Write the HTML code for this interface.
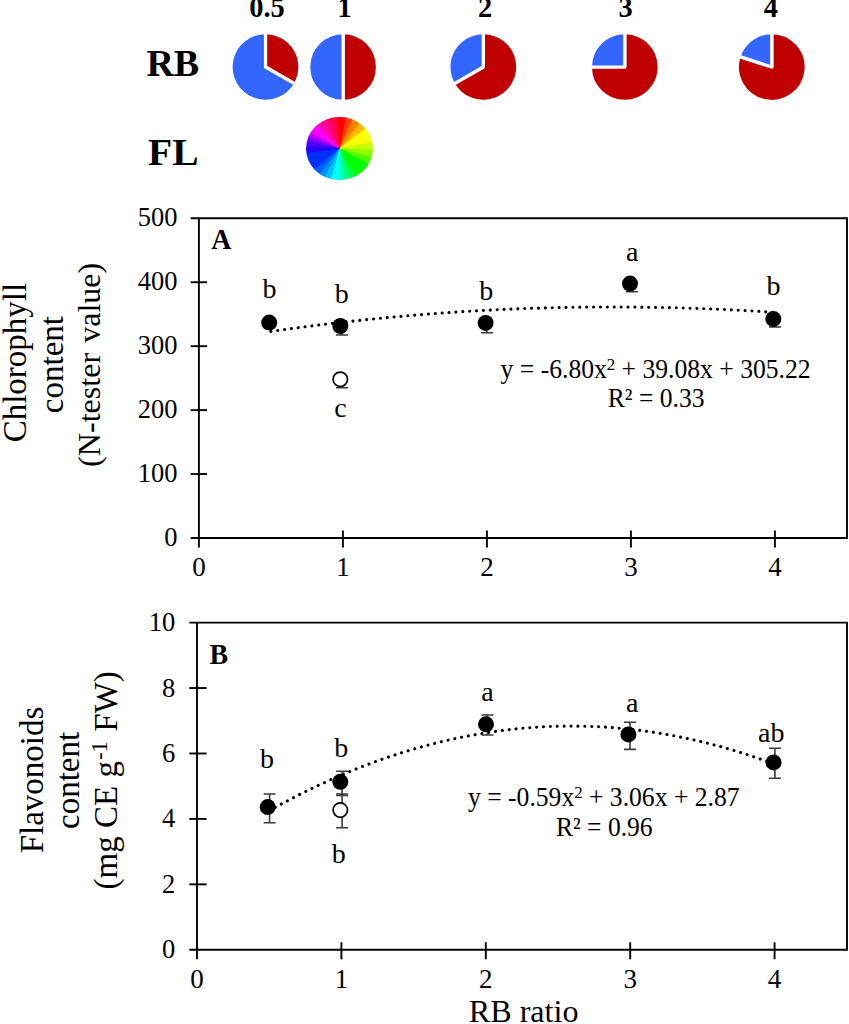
<!DOCTYPE html>
<html><head><meta charset="utf-8"><title>Figure</title>
<style>html,body{margin:0;padding:0;background:#fff;}body{width:849px;height:1024px;overflow:hidden;position:relative;font-family:"Liberation Serif",serif;}svg{position:absolute;left:0;top:0;display:block;}text{font-family:"Liberation Serif",serif;fill:#000;}.wheel{position:absolute;border-radius:50%;}</style>
</head><body>
<div class="wheel" style="left:306.0px;top:116.5px;width:66.6px;height:63.8px;background:conic-gradient(from 0deg,#ff0000 -1.5deg,#ff0000 10.5deg,#ff4000 13.5deg,#ff4000 22.5deg,#ff8000 25.5deg,#ff8000 36.5deg,#ffb800 39.5deg,#ffb800 50.5deg,#ffff00 53.5deg,#ffff00 76.5deg,#c8ff00 79.5deg,#c8ff00 90.5deg,#90ff00 93.5deg,#90ff00 103.5deg,#50ff00 106.5deg,#50ff00 116.5deg,#00ff00 119.5deg,#00ff00 148.5deg,#00ff40 151.5deg,#00ff40 158.5deg,#00ff80 161.5deg,#00ff80 169.5deg,#00ffc0 172.5deg,#00ffc0 178.5deg,#00ffff 181.5deg,#00ffff 193.5deg,#00c0ff 196.5deg,#00c0ff 205.5deg,#0090ff 208.5deg,#0090ff 216.5deg,#0060ff 219.5deg,#0060ff 228.5deg,#0030ff 231.5deg,#0030ff 260.5deg,#2000ff 263.5deg,#2000ff 272.5deg,#5000f0 275.5deg,#5000f0 282.5deg,#8000ff 285.5deg,#8000ff 290.5deg,#c000ff 293.5deg,#c000ff 298.5deg,#ff00ff 301.5deg,#ff00ff 316.5deg,#ff00a0 319.5deg,#ff00a0 332.5deg,#ff0060 335.5deg,#ff0060 346.5deg,#ff0030 349.5deg,#ff0030 355.5deg,#ff0000 358.5deg,#ff0000 358.5deg);"></div>
<svg width="849" height="1024" viewBox="0 0 849 1024">
<path d="M265.50 67.00 L265.50 32.60 A34.40 34.40 0 0 1 295.29 84.20 Z" fill="#c00000" stroke="#fff" stroke-width="3.2" stroke-linejoin="round"/>
<path d="M265.50 67.00 L295.29 84.20 A34.40 34.40 0 1 1 265.50 32.60 Z" fill="#3366ff" stroke="#fff" stroke-width="3.2" stroke-linejoin="round"/>
<path d="M343.10 67.00 L343.10 32.60 A34.40 34.40 0 0 1 343.10 101.40 Z" fill="#c00000" stroke="#fff" stroke-width="3.2" stroke-linejoin="round"/>
<path d="M343.10 67.00 L343.10 101.40 A34.40 34.40 0 0 1 343.10 32.60 Z" fill="#3366ff" stroke="#fff" stroke-width="3.2" stroke-linejoin="round"/>
<path d="M483.30 67.00 L483.30 32.60 A34.40 34.40 0 1 1 453.51 84.20 Z" fill="#c00000" stroke="#fff" stroke-width="3.2" stroke-linejoin="round"/>
<path d="M483.30 67.00 L453.51 84.20 A34.40 34.40 0 0 1 483.30 32.60 Z" fill="#3366ff" stroke="#fff" stroke-width="3.2" stroke-linejoin="round"/>
<path d="M624.80 67.00 L624.80 32.60 A34.40 34.40 0 1 1 590.40 67.00 Z" fill="#c00000" stroke="#fff" stroke-width="3.2" stroke-linejoin="round"/>
<path d="M624.80 67.00 L590.40 67.00 A34.40 34.40 0 0 1 624.80 32.60 Z" fill="#3366ff" stroke="#fff" stroke-width="3.2" stroke-linejoin="round"/>
<path d="M771.80 67.00 L771.80 32.60 A34.40 34.40 0 1 1 739.08 56.37 Z" fill="#c00000" stroke="#fff" stroke-width="3.2" stroke-linejoin="round"/>
<path d="M771.80 67.00 L739.08 56.37 A34.40 34.40 0 0 1 771.80 32.60 Z" fill="#3366ff" stroke="#fff" stroke-width="3.2" stroke-linejoin="round"/>
<text x="267.0" y="17.3" font-size="28.4" font-weight="bold" text-anchor="middle">0.5</text>
<text x="344.6" y="17.3" font-size="28.4" font-weight="bold" text-anchor="middle">1</text>
<text x="485.2" y="17.3" font-size="28.4" font-weight="bold" text-anchor="middle">2</text>
<text x="625.5" y="17.3" font-size="28.4" font-weight="bold" text-anchor="middle">3</text>
<text x="770.9" y="17.3" font-size="28.4" font-weight="bold" text-anchor="middle">4</text>
<text x="146.4" y="76" font-size="38" font-weight="bold">RB</text>
<text transform="translate(148.0 164.7) scale(1.04 1)" font-size="38" font-weight="bold">FL</text>
<g stroke="#000" stroke-width="1.9" fill="none" stroke-linecap="butt">
<path d="M190.7 218.3 H847.0 V538.0 H190.7"/>
<path d="M198.9 218.3 V547.5"/>
<path d="M190.7 474.06 H207.0"/>
<path d="M190.7 410.12 H207.0"/>
<path d="M190.7 346.18 H207.0"/>
<path d="M190.7 282.24 H207.0"/>
<path d="M342.90 530.5 V547.5"/>
<path d="M486.90 530.5 V547.5"/>
<path d="M630.90 530.5 V547.5"/>
<path d="M774.90 530.5 V547.5"/>
</g>
<text transform="translate(177.4 545.90) scale(0.98 1)" font-size="27" text-anchor="end">0</text>
<text transform="translate(177.4 481.96) scale(0.98 1)" font-size="27" text-anchor="end">100</text>
<text transform="translate(177.4 418.02) scale(0.98 1)" font-size="27" text-anchor="end">200</text>
<text transform="translate(177.4 354.08) scale(0.98 1)" font-size="27" text-anchor="end">300</text>
<text transform="translate(177.4 290.14) scale(0.98 1)" font-size="27" text-anchor="end">400</text>
<text transform="translate(177.4 226.20) scale(0.98 1)" font-size="27" text-anchor="end">500</text>
<text x="198.90" y="576.0" font-size="27" text-anchor="middle">0</text>
<text x="342.90" y="576.0" font-size="27" text-anchor="middle">1</text>
<text x="486.90" y="576.0" font-size="27" text-anchor="middle">2</text>
<text x="630.90" y="576.0" font-size="27" text-anchor="middle">3</text>
<text x="774.90" y="576.0" font-size="27" text-anchor="middle">4</text>
<text transform="translate(211.2 249.0) scale(0.93 1)" font-size="30" font-weight="bold">A</text>
<polyline points="270.90,331.44 273.42,331.08 275.94,330.72 278.46,330.36 280.98,330.01 283.50,329.66 286.02,329.32 288.54,328.97 291.06,328.63 293.58,328.29 296.10,327.96 298.62,327.62 301.14,327.29 303.66,326.96 306.18,326.64 308.70,326.32 311.22,326.00 313.74,325.68 316.26,325.37 318.78,325.05 321.30,324.74 323.82,324.44 326.34,324.13 328.86,323.83 331.38,323.53 333.90,323.24 336.42,322.94 338.94,322.65 341.46,322.37 343.98,322.08 346.50,321.80 349.02,321.52 351.54,321.24 354.06,320.97 356.58,320.69 359.10,320.42 361.62,320.16 364.14,319.89 366.66,319.63 369.18,319.37 371.70,319.12 374.22,318.86 376.74,318.61 379.26,318.37 381.78,318.12 384.30,317.88 386.82,317.64 389.34,317.40 391.86,317.17 394.38,316.93 396.90,316.70 399.42,316.48 401.94,316.25 404.46,316.03 406.98,315.81 409.50,315.60 412.02,315.38 414.54,315.17 417.06,314.97 419.58,314.76 422.10,314.56 424.62,314.36 427.14,314.16 429.66,313.96 432.18,313.77 434.70,313.58 437.22,313.40 439.74,313.21 442.26,313.03 444.78,312.85 447.30,312.68 449.82,312.50 452.34,312.33 454.86,312.16 457.38,312.00 459.90,311.84 462.42,311.68 464.94,311.52 467.46,311.36 469.98,311.21 472.50,311.06 475.02,310.91 477.54,310.77 480.06,310.63 482.58,310.49 485.10,310.35 487.62,310.22 490.14,310.09 492.66,309.96 495.18,309.84 497.70,309.71 500.22,309.59 502.74,309.48 505.26,309.36 507.78,309.25 510.30,309.14 512.82,309.03 515.34,308.93 517.86,308.83 520.38,308.73 522.90,308.63 525.42,308.54 527.94,308.45 530.46,308.36 532.98,308.27 535.50,308.19 538.02,308.11 540.54,308.03 543.06,307.96 545.58,307.89 548.10,307.82 550.62,307.75 553.14,307.68 555.66,307.62 558.18,307.56 560.70,307.51 563.22,307.45 565.74,307.40 568.26,307.35 570.78,307.31 573.30,307.27 575.82,307.23 578.34,307.19 580.86,307.15 583.38,307.12 585.90,307.09 588.42,307.06 590.94,307.04 593.46,307.02 595.98,307.00 598.50,306.98 601.02,306.97 603.54,306.96 606.06,306.95 608.58,306.94 611.10,306.94 613.62,306.94 616.14,306.94 618.66,306.95 621.18,306.96 623.70,306.97 626.22,306.98 628.74,306.99 631.26,307.01 633.78,307.03 636.30,307.06 638.82,307.08 641.34,307.11 643.86,307.14 646.38,307.18 648.90,307.22 651.42,307.26 653.94,307.30 656.46,307.34 658.98,307.39 661.50,307.44 664.02,307.49 666.54,307.55 669.06,307.61 671.58,307.67 674.10,307.73 676.62,307.80 679.14,307.87 681.66,307.94 684.18,308.01 686.70,308.09 689.22,308.17 691.74,308.25 694.26,308.34 696.78,308.42 699.30,308.51 701.82,308.61 704.34,308.70 706.86,308.80 709.38,308.90 711.90,309.00 714.42,309.11 716.94,309.22 719.46,309.33 721.98,309.45 724.50,309.56 727.02,309.68 729.54,309.80 732.06,309.93 734.58,310.06 737.10,310.19 739.62,310.32 742.14,310.45 744.66,310.59 747.18,310.73 749.70,310.88 752.22,311.02 754.74,311.17 757.26,311.32 759.78,311.48 762.30,311.63 764.82,311.79 767.34,311.96 769.86,312.12 772.38,312.29 774.90,312.46" fill="none" stroke="#000" stroke-width="3.1" stroke-linecap="round" stroke-dasharray="0.01 6.88"/>
<g stroke="#3a3a3a" stroke-width="1.6" fill="none"><path d="M342.0 326.0 V335.0 M336.0 335.0 H348.0"/></g>
<g stroke="#3a3a3a" stroke-width="1.6" fill="none"><path d="M487.0 322.9 V332.7 M481.0 332.7 H493.0"/></g>
<g stroke="#3a3a3a" stroke-width="1.6" fill="none"><path d="M631.8 283.6 V291.8 M625.8 291.8 H637.8"/></g>
<g stroke="#3a3a3a" stroke-width="1.6" fill="none"><path d="M775.0 318.9 V327.0 M769.0 327.0 H781.0"/></g>
<g stroke="#3a3a3a" stroke-width="1.6" fill="none"><path d="M342.0 379.3 V387.8 M336.0 387.8 H348.0"/></g>
<circle cx="340.3" cy="379.3" r="7.2" fill="#fff" stroke="#000" stroke-width="1.7"/>
<circle cx="269.2" cy="322.6" r="8" fill="#000"/>
<circle cx="340.3" cy="326.0" r="8" fill="#000"/>
<circle cx="485.6" cy="322.9" r="8" fill="#000"/>
<circle cx="630.0" cy="283.6" r="8" fill="#000"/>
<circle cx="773.3" cy="318.9" r="8" fill="#000"/>
<text x="269.5" y="297.9" font-size="28" text-anchor="middle">b</text>
<text x="341.7" y="303.0" font-size="28" text-anchor="middle">b</text>
<text x="486.3" y="300.2" font-size="28" text-anchor="middle">b</text>
<text x="632.3" y="260.6" font-size="28" text-anchor="middle">a</text>
<text x="773.5" y="294.5" font-size="28" text-anchor="middle">b</text>
<text x="340.5" y="416.6" font-size="28" text-anchor="middle">c</text>
<text transform="translate(500.6 378.2) scale(0.967 1)" font-size="26.5">y = -6.80x<tspan font-size="17.4" dy="-8">2</tspan><tspan dy="8"> + 39.08x + 305.22</tspan></text>
<text transform="translate(607.8 407.0) scale(0.965 1)" font-size="26.5">R² = 0.33</text>
<text transform="translate(25.6 362.6) rotate(-90)" font-size="33.0" text-anchor="middle">Chlorophyll</text>
<text transform="translate(62.6 364.6) rotate(-90)" font-size="33.0" text-anchor="middle">content</text>
<text transform="translate(100.1 364.8) rotate(-90)" font-size="32.1" text-anchor="middle"><tspan word-spacing="2">(N-tester value)</tspan></text>
<g stroke="#000" stroke-width="1.9" fill="none" stroke-linecap="butt">
<path d="M189.3 622.6 H847.0 V949.8 H189.3"/>
<path d="M197.0 622.6 V959.3"/>
<path d="M189.3 884.36 H206.6"/>
<path d="M189.3 818.92 H206.6"/>
<path d="M189.3 753.48 H206.6"/>
<path d="M189.3 688.04 H206.6"/>
<path d="M341.40 942.3 V959.3"/>
<path d="M485.80 942.3 V959.3"/>
<path d="M630.20 942.3 V959.3"/>
<path d="M774.60 942.3 V959.3"/>
</g>
<text transform="translate(175.1 958.30) scale(0.98 1)" font-size="27" text-anchor="end">0</text>
<text transform="translate(175.1 892.86) scale(0.98 1)" font-size="27" text-anchor="end">2</text>
<text transform="translate(175.1 827.42) scale(0.98 1)" font-size="27" text-anchor="end">4</text>
<text transform="translate(175.1 761.98) scale(0.98 1)" font-size="27" text-anchor="end">6</text>
<text transform="translate(175.1 696.54) scale(0.98 1)" font-size="27" text-anchor="end">8</text>
<text transform="translate(175.1 631.10) scale(0.98 1)" font-size="27" text-anchor="end">10</text>
<text x="197.00" y="987.8" font-size="27" text-anchor="middle">0</text>
<text x="341.40" y="987.8" font-size="27" text-anchor="middle">1</text>
<text x="485.80" y="987.8" font-size="27" text-anchor="middle">2</text>
<text x="630.20" y="987.8" font-size="27" text-anchor="middle">3</text>
<text x="774.60" y="987.8" font-size="27" text-anchor="middle">4</text>
<text transform="translate(209.5 663.7) scale(0.93 1)" font-size="30" font-weight="bold">B</text>
<polyline points="269.20,810.66 271.73,809.25 274.25,807.85 276.78,806.47 279.31,805.10 281.84,803.73 284.36,802.39 286.89,801.05 289.42,799.72 291.94,798.41 294.47,797.11 297.00,795.82 299.52,794.54 302.05,793.27 304.58,792.02 307.11,790.77 309.63,789.54 312.16,788.32 314.69,787.12 317.21,785.92 319.74,784.74 322.27,783.56 324.79,782.40 327.32,781.26 329.85,780.12 332.38,779.00 334.90,777.88 337.43,776.78 339.96,775.69 342.48,774.61 345.01,773.55 347.54,772.50 350.06,771.45 352.59,770.42 355.12,769.41 357.64,768.40 360.17,767.40 362.70,766.42 365.23,765.45 367.75,764.49 370.28,763.54 372.81,762.61 375.33,761.69 377.86,760.77 380.39,759.87 382.92,758.99 385.44,758.11 387.97,757.24 390.50,756.39 393.02,755.55 395.55,754.72 398.08,753.91 400.60,753.10 403.13,752.31 405.66,751.52 408.19,750.75 410.71,750.00 413.24,749.25 415.77,748.52 418.29,747.79 420.82,747.08 423.35,746.38 425.87,745.70 428.40,745.02 430.93,744.36 433.46,743.71 435.98,743.07 438.51,742.44 441.04,741.82 443.56,741.22 446.09,740.62 448.62,740.04 451.14,739.48 453.67,738.92 456.20,738.37 458.73,737.84 461.25,737.32 463.78,736.81 466.31,736.31 468.83,735.82 471.36,735.35 473.89,734.89 476.41,734.44 478.94,734.00 481.47,733.57 484.00,733.16 486.52,732.75 489.05,732.36 491.58,731.98 494.10,731.61 496.63,731.26 499.16,730.91 501.68,730.58 504.21,730.26 506.74,729.95 509.27,729.65 511.79,729.37 514.32,729.10 516.85,728.83 519.37,728.58 521.90,728.35 524.43,728.12 526.95,727.91 529.48,727.70 532.01,727.51 534.54,727.34 537.06,727.17 539.59,727.01 542.12,726.87 544.64,726.74 547.17,726.62 549.70,726.51 552.22,726.42 554.75,726.33 557.28,726.26 559.81,726.20 562.33,726.15 564.86,726.11 567.39,726.09 569.91,726.08 572.44,726.07 574.97,726.08 577.49,726.11 580.02,726.14 582.55,726.19 585.08,726.24 587.60,726.31 590.13,726.40 592.66,726.49 595.18,726.59 597.71,726.71 600.24,726.84 602.76,726.98 605.29,727.13 607.82,727.30 610.35,727.47 612.87,727.66 615.40,727.86 617.93,728.07 620.45,728.30 622.98,728.53 625.51,728.78 628.03,729.04 630.56,729.31 633.09,729.59 635.62,729.88 638.14,730.19 640.67,730.51 643.20,730.84 645.72,731.18 648.25,731.53 650.78,731.90 653.30,732.27 655.83,732.66 658.36,733.06 660.88,733.48 663.41,733.90 665.94,734.34 668.47,734.78 670.99,735.24 673.52,735.72 676.05,736.20 678.57,736.70 681.10,737.20 683.63,737.72 686.15,738.25 688.68,738.79 691.21,739.35 693.74,739.92 696.26,740.49 698.79,741.08 701.32,741.68 703.84,742.30 706.37,742.92 708.90,743.56 711.43,744.21 713.95,744.87 716.48,745.54 719.01,746.23 721.53,746.92 724.06,747.63 726.59,748.35 729.11,749.08 731.64,749.83 734.17,750.58 736.70,751.35 739.22,752.13 741.75,752.92 744.28,753.72 746.80,754.54 749.33,755.36 751.86,756.20 754.38,757.05 756.91,757.91 759.44,758.79 761.97,759.67 764.49,760.57 767.02,761.48 769.55,762.40 772.07,763.33 774.60,764.28" fill="none" stroke="#000" stroke-width="3.1" stroke-linecap="round" stroke-dasharray="0.01 6.88"/>
<g stroke="#3a3a3a" stroke-width="1.6" fill="none"><path d="M269.6 794.0 V822.7 M263.6 794.0 H275.6 M263.6 822.7 H275.6"/></g>
<g stroke="#3a3a3a" stroke-width="1.6" fill="none"><path d="M342.1 771.3 V795.4 M336.1 771.3 H348.1 M336.1 795.4 H348.1"/></g>
<g stroke="#3a3a3a" stroke-width="1.6" fill="none"><path d="M487.5 715.0 V735.0 M481.5 715.0 H493.5 M481.5 735.0 H493.5"/></g>
<g stroke="#3a3a3a" stroke-width="1.6" fill="none"><path d="M630.0 722.2 V749.4 M624.0 722.2 H636.0 M624.0 749.4 H636.0"/></g>
<g stroke="#3a3a3a" stroke-width="1.6" fill="none"><path d="M774.9 748.3 V778.3 M768.9 748.3 H780.9 M768.9 778.3 H780.9"/></g>
<g stroke="#3a3a3a" stroke-width="1.6" fill="none"><path d="M342.1 794.0 V827.8 M336.1 794.0 H348.1 M336.1 827.8 H348.1"/></g>
<circle cx="340.3" cy="810.1" r="7.2" fill="#fff" stroke="#000" stroke-width="1.7"/>
<circle cx="267.7" cy="807.1" r="8" fill="#000"/>
<circle cx="340.3" cy="781.8" r="8" fill="#000"/>
<circle cx="486.0" cy="724.3" r="8" fill="#000"/>
<circle cx="628.4" cy="734.4" r="8" fill="#000"/>
<circle cx="773.6" cy="762.4" r="8" fill="#000"/>
<text x="267.0" y="768.0" font-size="28" text-anchor="middle">b</text>
<text x="341.2" y="757.1" font-size="28" text-anchor="middle">b</text>
<text x="338.7" y="862.7" font-size="28" text-anchor="middle">b</text>
<text x="487.5" y="700.7" font-size="28" text-anchor="middle">a</text>
<text x="632.3" y="711.5" font-size="28" text-anchor="middle">a</text>
<text x="771.3" y="741.8" font-size="28" text-anchor="middle">ab</text>
<text transform="translate(468.0 806.0) scale(0.967 1)" font-size="26.5">y = -0.59x<tspan font-size="17.4" dy="-8">2</tspan><tspan dy="8"> + 3.06x + 2.87</tspan></text>
<text transform="translate(556.0 836.0) scale(0.965 1)" font-size="26.5">R² = 0.96</text>
<text transform="translate(43.2 780.0) rotate(-90)" font-size="33.0" text-anchor="middle">Flavonoids</text>
<text transform="translate(78.6 780.4) rotate(-90)" font-size="33.0" text-anchor="middle">content</text>
<text transform="translate(117.2 780.3) rotate(-90)" font-size="33.0" text-anchor="middle">(mg CE g<tspan font-size="23" dy="-10.5" dx="1">-1</tspan><tspan dy="10.5" dx="1"> FW)</tspan></text>
<text transform="translate(468.8 1021.6) scale(1.05 1)" font-size="30.6">RB ratio</text>
</svg></body></html>
